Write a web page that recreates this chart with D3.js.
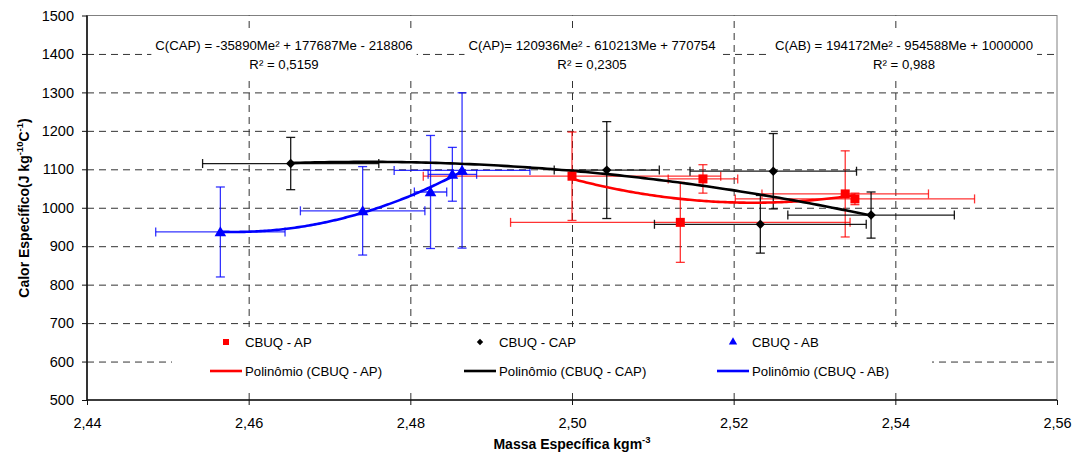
<!DOCTYPE html>
<html><head><meta charset="utf-8">
<script src="https://cdn.jsdelivr.net/npm/d3@7"></script>
<style>
body{margin:0;background:#fff}
svg text{font-family:"Liberation Sans",Arial,sans-serif;fill:#000}
</style>
</head><body>
<svg id="chart" width="1081" height="455"></svg>
<script>
// ---- data ----
const seriesNames = ["CBUQ - AP", "CBUQ - CAP", "CBUQ - AB"];
const trendNames = ["Polinômio (CBUQ - AP)", "Polinômio (CBUQ - CAP)", "Polinômio (CBUQ - AB)"];
const seriesColors = ["#ff0000", "#000000", "#0000ff"];

const apMass     = [2.5000, 2.5162, 2.5134, 2.5338, 2.5350];
const apHeat     = [1082, 1075, 962, 1036, 1023];
const apMassErr  = [0.0184, 0.0043, 0.0210, 0.0103, 0.0148];
const apHeatErr  = [115, 37, 104, 112, 15];

const capMass    = [2.4652, 2.5043, 2.5249, 2.5233, 2.5370];
const capHeat    = [1115, 1098, 1095, 957, 981];
const capMassErr = [0.0109, 0.0065, 0.0103, 0.0131, 0.0103];
const capHeatErr = [68, 126, 98, 75, 60];

const abMass     = [2.4565, 2.4741, 2.4825, 2.4852, 2.4864];
const abHeat     = [937, 992, 1041, 1087, 1097];
const abMassErr  = [0.0080, 0.0077, 0.0020, 0.0030, 0.0084];
const abHeatErr  = [117, 115, 147, 70, 202];

const equations = ["C(AP)= 120936Me² - 610213Me + 770754",
                   "C(CAP) = -35890Me² + 177687Me - 218806",
                   "C(AB) = 194172Me² - 954588Me + 1000000"];
const rSquared  = ["R² = 0,2305", "R² = 0,5159", "R² = 0,988"];
const xTicks = [2.44, 2.46, 2.48, 2.50, 2.52, 2.54, 2.56];
const yTicks = [500, 600, 700, 800, 900, 1000, 1100, 1200, 1300, 1400, 1500];

// ---- layout ----
const svg = d3.select("#chart");
const L = 87, R = 1057, T = 15.5, B = 400;
const x = d3.scaleLinear().domain([2.44, 2.56]).range([L, R]);
const y = d3.scaleLinear().domain([500, 1500]).range([B, T]);

const series = [
  {mass: apMass, heat: apHeat, mErr: apMassErr, hErr: apHeatErr, shape: "square"},
  {mass: capMass, heat: capHeat, mErr: capMassErr, hErr: capHeatErr, shape: "diamond"},
  {mass: abMass, heat: abHeat, mErr: abMassErr, hErr: abHeatErr, shape: "triangle"}
].map((s, i) => ({...s, name: seriesNames[i], trend: trendNames[i], color: seriesColors[i],
   pts: s.mass.map((m, j) => ({m, h: s.heat[j], me: s.mErr[j], he: s.hErr[j]}))}));

// plot border (top/right)
svg.append("rect").attr("x", L).attr("y", T).attr("width", R - L).attr("height", B - T)
  .attr("fill", "#fff").attr("stroke", "#808080").attr("stroke-width", 1);

// gridlines
const gridY = svg.append("g").attr("transform", `translate(${L},0)`)
  .call(d3.axisLeft(y).tickValues(yTicks.slice(1, -1)).tickSize(-(R - L)).tickFormat(""));
const gridX = svg.append("g").attr("transform", `translate(0,${B})`)
  .call(d3.axisBottom(x).tickValues(xTicks.slice(1, -1)).tickSize(-(B - T)).tickFormat(""));
[gridY, gridX].forEach(g => {
  g.select(".domain").remove();
  g.selectAll("line").attr("stroke", "#333").attr("stroke-width", 1).attr("stroke-dasharray", "7,5");
});

// error bars
const cap = 4.5;
series.forEach(s => {
  const g = svg.append("g").attr("stroke", s.color).attr("stroke-width", 1.3)
    .attr("stroke-opacity", s.shape === "diamond" ? 0.9 : 0.8);
  s.pts.forEach(p => {
    const cx = x(p.m), cy = y(p.h);
    const x0 = x(p.m - p.me), x1 = x(p.m + p.me);
    const y0 = y(p.h - p.he), y1 = y(p.h + p.he);
    g.append("line").attr("x1", x0).attr("x2", x1).attr("y1", cy).attr("y2", cy);
    g.append("line").attr("x1", x0).attr("x2", x0).attr("y1", cy - cap).attr("y2", cy + cap);
    g.append("line").attr("x1", x1).attr("x2", x1).attr("y1", cy - cap).attr("y2", cy + cap);
    g.append("line").attr("x1", cx).attr("x2", cx).attr("y1", y0).attr("y2", y1);
    g.append("line").attr("x1", cx - cap).attr("x2", cx + cap).attr("y1", y0).attr("y2", y0);
    g.append("line").attr("x1", cx - cap).attr("x2", cx + cap).attr("y1", y1).attr("y2", y1);
  });
});

// least-squares 2nd order polynomial trendline (as in the spreadsheet)
function polyfit2(xs, ys) {
  const mx = d3.mean(xs);
  const u = xs.map(v => v - mx);
  const S = k => d3.sum(u, v => Math.pow(v, k));
  const Ty = k => d3.sum(u, (v, i) => Math.pow(v, k) * ys[i]);
  const A = [[S(4), S(3), S(2), Ty(2)], [S(3), S(2), S(1), Ty(1)], [S(2), S(1), u.length, Ty(0)]];
  for (let i = 0; i < 3; i++) {
    for (let k = i + 1; k < 3; k++) {
      const f = A[k][i] / A[i][i];
      for (let j = i; j < 4; j++) A[k][j] -= f * A[i][j];
    }
  }
  const c = [0, 0, 0];
  for (let i = 2; i >= 0; i--) {
    let s = A[i][3];
    for (let j = i + 1; j < 3; j++) s -= A[i][j] * c[j];
    c[i] = s / A[i][i];
  }
  return v => { const w = v - mx; return c[0] * w * w + c[1] * w + c[2]; };
}
const line = d3.line().x(d => x(d[0])).y(d => y(d[1]));
series.forEach(s => {
  const f = polyfit2(s.mass, s.heat);
  const [lo, hi] = d3.extent(s.mass);
  const samples = d3.range(0, 121).map(i => { const v = lo + (hi - lo) * i / 120; return [v, f(v)]; });
  svg.append("path").attr("d", line(samples)).attr("fill", "none")
    .attr("stroke", s.color).attr("stroke-width", 2.6).attr("stroke-linejoin", "round");
});

// markers
function markerPath(shape, big) {
  if (shape === "square") return d3.symbol(d3.symbolSquare, big ? 81 : 36)();
  if (shape === "diamond") return d3.symbol(d3.symbolSquare, big ? 44 : 20)();
  return d3.symbol(d3.symbolTriangle, big ? 58 : 30)();
}
series.forEach(s => {
  svg.append("g").selectAll("path").data(s.pts).join("path")
    .attr("d", markerPath(s.shape, true))
    .attr("transform", p => `translate(${x(p.m)},${y(p.h) + (s.shape === "triangle" ? 1 : 0)})` + (s.shape === "diamond" ? " rotate(45)" : ""))
    .attr("fill", s.color);
});

// axes
const yAxis = svg.append("g").attr("transform", `translate(${L},0)`)
  .call(d3.axisLeft(y).tickValues(yTicks).tickSize(5).tickPadding(8).tickFormat(d3.format("d")));
const xAxis = svg.append("g").attr("transform", `translate(0,${B})`)
  .call(d3.axisBottom(x).tickValues(xTicks).tickSize(5).tickPadding(13).tickFormat(d => d.toFixed(2).replace(".", ",")));
[yAxis, xAxis].forEach(g => {
  g.select(".domain").attr("stroke", "#111").attr("stroke-width", 1.6);
  g.selectAll(".tick line").attr("stroke", "#111");
  g.selectAll(".tick text").attr("font-size", 14.5).attr("font-family", '"Liberation Sans",Arial,sans-serif').attr("fill", "#000");
});
yAxis.select(".domain").attr("d", `M0,${T}V${B}`);
xAxis.select(".domain").attr("d", `M${L},0H${R}`);

// equation labels
const eqCenters = [592, 284, 904];
series.forEach((s, i) => {
  const g = svg.append("g");
  const bg = g.append("rect").attr("fill", "#fff");
  const t = g.append("text").attr("text-anchor", "middle").attr("font-size", 13.2);
  t.append("tspan").attr("x", eqCenters[i]).attr("y", 50).text(equations[i]);
  t.append("tspan").attr("x", eqCenters[i]).attr("y", 69).text(rSquared[i]);
  const bb = t.node().getBBox();
  bg.attr("x", bb.x - 4).attr("y", 31).attr("width", bb.width + 8).attr("height", 45);
});

// legend
const leg = svg.append("g");
leg.append("rect").attr("x", 172).attr("y", 327).attr("width", 760).attr("height", 61).attr("fill", "#fff");
const legTextX = [245, 499, 752];
series.forEach((s, i) => {
  const tx = legTextX[i];
  leg.append("path").attr("d", markerPath(s.shape, false))
    .attr("transform", `translate(${tx - 19},342)` + (s.shape === "diamond" ? " rotate(45)" : ""))
    .attr("fill", s.color);
  leg.append("text").attr("x", tx).attr("y", 342).attr("dy", "0.36em").attr("font-size", 13.2).text(s.name);
  leg.append("line").attr("x1", tx - 35).attr("x2", tx - 3).attr("y1", 371).attr("y2", 371)
    .attr("stroke", s.color).attr("stroke-width", 2.6);
  leg.append("text").attr("x", tx).attr("y", 371).attr("dy", "0.36em").attr("font-size", 13.2).text(s.trend);
});

// axis titles
const xt = svg.append("text").attr("x", 572).attr("y", 449).attr("text-anchor", "middle")
  .attr("font-size", 14).attr("font-weight", "bold");
xt.append("tspan").text("Massa Específica kgm");
xt.append("tspan").attr("dy", -6).attr("font-size", 9.5).text("-3");

const yt = svg.append("text").attr("transform", "translate(29,208) rotate(-90)")
  .attr("text-anchor", "middle").attr("font-size", 14).attr("font-weight", "bold");
yt.append("tspan").text("Calor Específico(J kg");
yt.append("tspan").attr("dy", -6).attr("font-size", 9.5).text("-10");
yt.append("tspan").attr("dy", 6).text("C");
yt.append("tspan").attr("dy", -6).attr("font-size", 9.5).text("-1");
yt.append("tspan").attr("dy", 6).text(")");
</script>
</body></html>
